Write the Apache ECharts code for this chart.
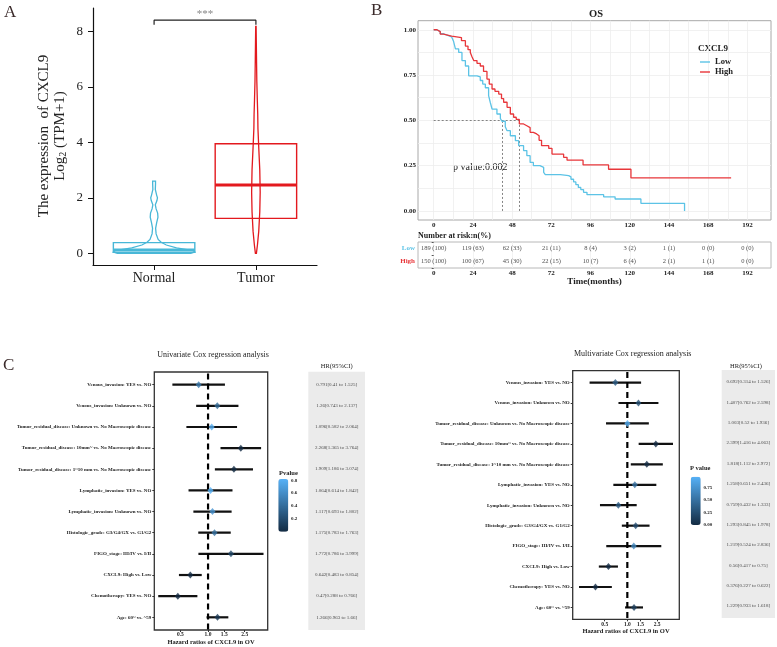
<!DOCTYPE html>
<html>
<head>
<meta charset="utf-8">
<script src="https://cdn.jsdelivr.net/npm/echarts@6/dist/echarts.min.js"></script>
<style>
html, body { margin: 0; padding: 0; background: #fff; }
#main { width: 777px; height: 647px; }
</style>
</head>
<body>
<div id="main"></div>
<script>
// ---------- panel A: expression of CXCL9 ----------
var groupNames = ['Normal', 'Tumor'];
var groupPos = [1, 2];
var boxQ1 = [0.035, 1.26];
var boxMed = [0.12, 2.46];
var boxQ3 = [0.385, 3.95];
var normalViolinY = [0, 0.05, 0.1, 0.2, 0.3, 0.4, 0.5, 0.7, 0.9, 1.1, 1.3, 1.45, 1.6, 1.75, 1.9, 2.0, 2.1, 2.3, 2.5, 2.6];
var normalViolinW = [0.36, 0.40, 0.38, 0.22, 0.12, 0.07, 0.04, 0.02, 0.015, 0.025, 0.038, 0.035, 0.02, 0.012, 0.028, 0.033, 0.025, 0.012, 0.014, 0.014];
var tumorViolinY = [0, 0.3, 0.8, 1.5, 2.2, 3.0, 3.8, 4.5, 5.0, 5.5, 6.2, 7.0, 7.6, 8.18];
var tumorViolinW = [0.005, 0.015, 0.028, 0.038, 0.042, 0.038, 0.028, 0.02, 0.018, 0.014, 0.009, 0.006, 0.004, 0.002];
var exprTicks = [0, 2, 4, 6, 8];
var sigTop = 8.4, sigFoot = 8.24, sigLabel = '***';

// ---------- panel B: overall survival ----------
var lowTime = [0, 2, 4, 6, 9, 11, 12.2, 13.3, 15.3, 17.3, 19.4, 21.4, 26.5, 28.5, 30, 31.6, 33.6, 34.6, 35.7, 38.7, 40.8, 41.8, 43.8, 44.9, 46.9, 50, 52, 55, 57, 59, 61, 65, 67.3, 68.3, 77.5, 82.6, 84, 85.6, 87, 88.5, 90, 91.7, 93.8, 104, 111, 126.8, 153.5, 153.5];
var lowSurv = [1, 0.99, 0.978, 0.968, 0.96, 0.952, 0.935, 0.895, 0.875, 0.83, 0.8, 0.746, 0.74, 0.72, 0.7, 0.68, 0.636, 0.6, 0.5625, 0.535, 0.51, 0.495, 0.465, 0.443, 0.415, 0.388, 0.36, 0.333, 0.305, 0.268, 0.25, 0.24, 0.213, 0.2, 0.195, 0.188, 0.175, 0.16, 0.145, 0.13, 0.118, 0.103, 0.09, 0.078, 0.066, 0.042, 0.042, 0];
var highTime = [0, 2, 4, 6, 11, 17, 19.4, 21, 22.4, 23.5, 24.5, 26.5, 28.5, 30.5, 32.6, 34, 35.7, 37.5, 39.8, 41.5, 42.8, 44.9, 46.9, 48.9, 50.5, 52.4, 55, 57, 59, 61, 63, 64.5, 66, 70.4, 72.4, 79.5, 81.6, 91.4, 107, 120.7, 182];
var highSurv = [1, 0.99, 0.976, 0.965, 0.957, 0.94, 0.91, 0.89, 0.875, 0.85, 0.83, 0.815, 0.8, 0.77, 0.728, 0.7, 0.673, 0.66, 0.645, 0.62, 0.6, 0.572, 0.535, 0.517, 0.505, 0.48, 0.47, 0.46, 0.434, 0.425, 0.415, 0.39, 0.36, 0.345, 0.314, 0.296, 0.28, 0.254, 0.23, 0.182, 0.182];
var medianLow = 41.8, medianHigh = 52.4;
var pValueText = 'p value:0.002';
var timeTicks = [0, 24, 48, 72, 96, 120, 144, 168, 192];
var timeGrid = [0, 12, 24, 36, 48, 60, 72, 84, 96, 108, 120, 132, 144, 156, 168, 180, 192];
var survTicks = [0, 0.25, 0.5, 0.75, 1];
var survGrid = [0, 0.125, 0.25, 0.375, 0.5, 0.625, 0.75, 0.875, 1];
var riskGroups = ['Low', 'High'];
var riskLow = [189, 119, 62, 21, 8, 3, 1, 0, 0];
var riskLowPct = [100, 63, 33, 11, 4, 2, 1, 0, 0];
var riskHigh = [150, 100, 45, 22, 10, 6, 2, 1, 0];
var riskHighPct = [100, 67, 30, 15, 7, 4, 1, 1, 0];

// ---------- panel C: Cox regression ----------
var coxVars = [
  'Venous_invasion: YES vs. NO',
  'Venous_invasion: Unknown vs. NO',
  'Tumor_residual_disease: Unknown vs. No Macroscopic disease',
  'Tumor_residual_disease: 10mm~ vs. No Macroscopic disease',
  'Tumor_residual_disease: 1~10 mm vs. No Macroscopic disease',
  'Lymphatic_invasion: YES vs. NO',
  'Lymphatic_invasion: Unknown vs. NO',
  'Histologic_grade: G3/G4/GX vs. G1/G2',
  'FIGO_stage: III/IV vs. I/II',
  'CXCL9: High vs. Low',
  'Chemotherapy: YES vs. NO',
  'Age: 60~ vs. ~59'
];
var uniHR = [0.791, 1.26, 1.096, 2.268, 1.909, 1.064, 1.117, 1.175, 1.772, 0.642, 0.47, 1.266];
var uniLo = [0.41, 0.743, 0.582, 1.365, 1.186, 0.614, 0.693, 0.783, 0.786, 0.483, 0.288, 0.963];
var uniHi = [1.525, 2.137, 2.064, 3.764, 3.074, 1.842, 1.802, 1.763, 3.999, 0.854, 0.766, 1.66];
var uniP = [0.48, 0.39, 0.78, 0.002, 0.008, 0.82, 0.65, 0.44, 0.17, 0.002, 0.002, 0.09];
var multiHR = [0.692, 1.407, 1.003, 2.399, 1.818, 1.258, 0.759, 1.293, 1.219, 0.56, 0.376, 1.229];
var multiLo = [0.314, 0.762, 0.52, 1.416, 1.112, 0.651, 0.432, 0.845, 0.524, 0.417, 0.227, 0.933];
var multiHi = [1.526, 2.598, 1.936, 4.063, 2.972, 2.436, 1.333, 1.978, 2.836, 0.75, 0.622, 1.618];
var multiP = [0.36, 0.28, 0.96, 0.001, 0.017, 0.5, 0.34, 0.24, 0.65, 0.0001, 0.0001, 0.14];
var hrTicks = [0.5, 1.0, 1.5, 2.5];
var uniPTicks = [0.2, 0.4, 0.6, 0.8];
var multiPTicks = [0, 0.25, 0.5, 0.75];

// ---------- styles ----------
var SERIF = "'Liberation Serif','Times New Roman',serif";
var BLUE = '#48B7D7', RED = '#E3191E';
var KM_LOW = '#5CC3E6', KM_HIGH = '#E8363A';
var P_COLORS = ['#132B43', '#56B1F7'];
var boxHalf = 0.4;

var chart = echarts.init(document.getElementById('main'));

function zip(a, b) { return a.map(function (v, i) { return [v, b[i]]; }); }
function rowIdx() { return coxVars.map(function (_, i) { return i; }); }

function violin(pos, ys, ws, color) {
  return {
    type: 'custom', xAxisIndex: 0, yAxisIndex: 0, silent: true,
    data: [[pos, 0]],
    renderItem: function (params, api) {
      var pts = [];
      for (var i = 0; i < ys.length; i++) pts.push(api.coord([pos - ws[i], ys[i]]));
      for (var j = ys.length - 1; j >= 0; j--) pts.push(api.coord([pos + ws[j], ys[j]]));
      return { type: 'polygon', shape: { points: pts }, style: { fill: 'rgba(255,255,255,0)', stroke: color, lineWidth: 1.3 } };
    }
  };
}

function forestSeries(gi, hr, lo, hi, p) {
  var ci = hr.map(function (_, i) { return [Math.log(lo[i]), Math.log(hi[i]), i]; });
  var pts = hr.map(function (v, i) { return [Math.log(v), i, p[i]]; });
  var txt = hr.map(function (v, i) { return [0.5, i, v + '[' + lo[i] + ' to ' + hi[i] + ']']; });
  return [
    { type: 'line', xAxisIndex: gi, yAxisIndex: gi, symbol: 'none', silent: true,
      data: [[0, -1], [0, 12]], lineStyle: { color: '#000', width: 2.2, type: [6, 4] } },
    { type: 'custom', xAxisIndex: gi, yAxisIndex: gi, silent: true, data: ci,
      encode: { x: [0, 1], y: 2 },
      renderItem: function (params, api) {
        var a = api.coord([api.value(0), api.value(2)]);
        var b = api.coord([api.value(1), api.value(2)]);
        return { type: 'line', shape: { x1: a[0], y1: a[1], x2: b[0], y2: b[1] }, style: { stroke: '#111', lineWidth: 2.2 } };
      } },
    { type: 'scatter', xAxisIndex: gi, yAxisIndex: gi, symbol: 'diamond', symbolSize: [6, 7],
      data: pts, encode: { x: 0, y: 1 }, z: 5 },
    { type: 'scatter', xAxisIndex: gi + 1, yAxisIndex: gi + 1, symbolSize: 1, silent: true,
      data: txt, encode: { x: 0, y: 1 }, itemStyle: { color: 'rgba(0,0,0,0)' },
      label: { show: true, position: 'inside', fontSize: 5, fontFamily: SERIF, color: '#222',
        formatter: function (d) { return d.data[2]; } } }
  ];
}

function forestAxes(gi, hrMin, hrMax, rowPad) {
  var lnTicks = hrTicks.map(Math.log);
  return {
    x: [
      { gridIndex: gi, type: 'value', min: Math.log(hrMin), max: Math.log(hrMax),
        axisLine: { show: false, onZero: false }, splitLine: { show: false },
        axisTick: { length: 2, customValues: lnTicks, lineStyle: { color: '#333' } },
        axisLabel: { customValues: lnTicks, margin: 2, fontSize: 5.5, fontWeight: 'bold', fontFamily: SERIF, color: '#222',
          formatter: function (v) { return Math.exp(v).toFixed(1); } },
        name: 'Hazard ratios of CXCL9 in OV', nameLocation: 'middle', nameGap: 9,
        nameTextStyle: { fontSize: 6.5, fontWeight: 'bold', fontFamily: SERIF, color: '#222' } },
      { gridIndex: gi + 1, type: 'value', min: 0, max: 1, show: false }
    ],
    y: [
      { gridIndex: gi, type: 'value', inverse: true, min: -rowPad, max: 11 + rowPad,
        axisLine: { show: false, onZero: false }, splitLine: { show: false },
        axisTick: { length: 2, customValues: rowIdx(), lineStyle: { color: '#333' } },
        axisLabel: { customValues: rowIdx(), margin: 3, fontSize: 5, fontWeight: 'bold', fontFamily: SERIF, color: '#222',
          formatter: function (v) { return coxVars[v]; } } },
      { gridIndex: gi + 1, type: 'value', inverse: true, min: -rowPad, max: 11 + rowPad, show: false }
    ]
  };
}

var uniAxes = forestAxes(3, 0.261, 4.44, 0.6);
var multiAxes = forestAxes(5, 0.187, 4.93, 0.58);

function cbLabels(x, top, h, min, max, ticks, digits) {
  return ticks.map(function (v) {
    return { type: 'text', x: x, y: top + (max - v) / (max - min) * h,
      style: { text: v.toFixed(digits), fontSize: 5, fontWeight: 'bold', fontFamily: SERIF, fill: '#222', align: 'left', verticalAlign: 'middle' } };
  });
}

function txt(x, y, s, size, opts) {
  opts = opts || {};
  return { type: 'text', x: x, y: y, style: { text: s, fontSize: size, fontFamily: SERIF,
    fontWeight: opts.bold ? 'bold' : 'normal', fill: opts.color || '#222',
    align: opts.align || 'left', verticalAlign: opts.valign || 'middle' } };
}

var uniPMin = Math.min.apply(null, uniP), uniPMax = Math.max.apply(null, uniP);
var multiPMin = Math.min.apply(null, multiP), multiPMax = Math.max.apply(null, multiP);

var riskData = [];
timeTicks.forEach(function (t, i) {
  riskData.push([t, 0, riskLow[i] + ' (' + riskLowPct[i] + ')']);
  riskData.push([t, 1, riskHigh[i] + ' (' + riskHighPct[i] + ')']);
});

var option = {
  animation: false,
  textStyle: { fontFamily: SERIF },
  grid: [
    { left: 93, top: 8, width: 224, height: 257 },
    { left: 418, top: 20.7, width: 353, height: 199.3, show: true, borderColor: '#A8A8A8', borderWidth: 1, backgroundColor: '#fff' },
    { left: 418, top: 242, width: 353, height: 26, show: true, borderColor: '#B8B8B8', borderWidth: 1, backgroundColor: '#fff' },
    { left: 154.3, top: 372, width: 113.4, height: 258.7, show: true, borderColor: '#333', borderWidth: 1.3, backgroundColor: '#fff' },
    { left: 308.3, top: 371.7, width: 56.7, height: 258.3, show: true, borderWidth: 0, backgroundColor: '#EBEBEB' },
    { left: 572.7, top: 370.7, width: 106.6, height: 248.6, show: true, borderColor: '#333', borderWidth: 1.3, backgroundColor: '#fff' },
    { left: 721.7, top: 370, width: 53.3, height: 248, show: true, borderWidth: 0, backgroundColor: '#EBEBEB' }
  ],
  xAxis: [
    { gridIndex: 0, type: 'value', min: 0.4, max: 2.6,
      axisLine: { onZero: false, lineStyle: { color: '#111', width: 1.2 } },
      axisTick: { length: 5, customValues: groupPos, lineStyle: { color: '#111' } },
      axisLabel: { customValues: groupPos, margin: 6, fontSize: 14, color: '#222', fontFamily: SERIF,
        formatter: function (v) { return groupNames[groupPos.indexOf(v)]; } },
      splitLine: { show: false } },
    { gridIndex: 1, type: 'value', min: -9.6, max: 206.4,
      axisLine: { show: false, onZero: false },
      axisTick: { show: false, customValues: timeGrid },
      axisLabel: { customValues: timeTicks, margin: 2, fontSize: 7, fontWeight: 'bold', color: '#222', fontFamily: SERIF },
      splitLine: { show: true, lineStyle: { color: '#EEEEEE', width: 0.8 } } },
    { gridIndex: 2, type: 'value', min: -9.6, max: 206.4,
      axisLine: { show: false, onZero: false },
      axisTick: { show: false, customValues: timeTicks },
      axisLabel: { customValues: timeTicks, margin: 1.5, fontSize: 7, fontWeight: 'bold', color: '#222', fontFamily: SERIF },
      splitLine: { show: true, lineStyle: { color: '#F0F0F0', width: 0.8 } },
      name: 'Time(months)', nameLocation: 'middle', nameGap: 8,
      nameTextStyle: { fontSize: 9, fontWeight: 'bold', color: '#222', fontFamily: SERIF } }
  ].concat(uniAxes.x, multiAxes.x),
  yAxis: [
    { gridIndex: 0, type: 'value', min: -0.42, max: 8.84,
      axisLine: { show: true, onZero: false, lineStyle: { color: '#111', width: 1.2 } },
      axisTick: { show: true, length: 5, customValues: exprTicks, lineStyle: { color: '#111' } },
      axisLabel: { customValues: exprTicks, margin: 10, fontSize: 13, color: '#222', fontFamily: SERIF },
      splitLine: { show: false } },
    { gridIndex: 1, type: 'value', min: -0.05, max: 1.05,
      axisLine: { show: false, onZero: false },
      axisTick: { show: false, customValues: survGrid },
      axisLabel: { customValues: survTicks, margin: 2, fontSize: 7, fontWeight: 'bold', color: '#222', fontFamily: SERIF,
        formatter: function (v) { return v.toFixed(2); } },
      splitLine: { show: true, lineStyle: { color: '#EEEEEE', width: 0.8 } } },
    { gridIndex: 2, type: 'category', inverse: true, data: riskGroups,
      axisLine: { show: false }, axisTick: { show: true, length: 2, lineStyle: { color: '#555' } },
      axisLabel: { margin: 3, fontSize: 7, fontWeight: 'bold', fontFamily: SERIF,
        color: function (v) { return v === 'Low' ? KM_LOW : KM_HIGH; } },
      splitLine: { show: false } }
  ].concat(uniAxes.y, multiAxes.y),
  legend: {
    data: ['Low', 'High'], orient: 'vertical', left: 700, top: 57, padding: 0, itemGap: 0,
    icon: 'rect', itemWidth: 10, itemHeight: 1.4, selectedMode: false,
    textStyle: { fontSize: 8.5, fontWeight: 'bold', color: '#222', fontFamily: SERIF, lineHeight: 10 }
  },
  visualMap: [
    { type: 'continuous', seriesIndex: 11, dimension: 2, min: uniPMin, max: uniPMax,
      left: 278.3, top: 479, itemWidth: 10, itemHeight: 52.7, padding: 0, calculable: false,
      inRange: { color: P_COLORS } },
    { type: 'continuous', seriesIndex: 15, dimension: 2, min: multiPMin, max: multiPMax,
      left: 690.7, top: 476.7, itemWidth: 10, itemHeight: 48.3, padding: 0, calculable: false,
      inRange: { color: P_COLORS } }
  ],
  graphic: [
    txt(4, 13, 'A', 17, { color: '#3a2a2a' }),
    txt(371, 11, 'B', 17, { color: '#3a2a2a' }),
    txt(3, 366, 'C', 17, { color: '#3a2a2a' }),
    { type: 'text', x: 52, y: 136, rotation: Math.PI / 2,
      style: { text: 'The expression  of CXCL9\n{n|Log}{s|2}{n| (TPM+1)}', fontSize: 15, fontFamily: SERIF, fill: '#222',
        align: 'center', verticalAlign: 'middle', lineHeight: 16,
        rich: { n: { fontSize: 15, fontFamily: SERIF, fill: '#222' }, s: { fontSize: 10, fontFamily: SERIF, fill: '#222', verticalAlign: 'bottom', padding: [6, 0, 0, 0] } } } },
    txt(596, 14, 'OS', 10.5, { bold: true, align: 'center' }),
    txt(698, 49, 'CXCL9', 9, { bold: true }),
    txt(453, 167, pValueText, 10),
    txt(418, 236, 'Number at risk:n(%)', 8, { bold: true }),
    txt(213, 355, 'Univariate Cox regression analysis', 8, { align: 'center' }),
    txt(336.7, 366.5, 'HR(95%CI)', 6.5, { align: 'center' }),
    txt(279, 473, 'Pvalue', 6.5, { bold: true }),
    txt(632.7, 354, 'Multivariate Cox regression analysis', 8, { align: 'center' }),
    txt(746, 366.5, 'HR(95%CI)', 6.5, { align: 'center' }),
    txt(690, 468, 'P value', 6.5, { bold: true })
  ].concat(
    cbLabels(291, 479, 52.7, uniPMin, uniPMax, uniPTicks, 1),
    cbLabels(703.5, 476.7, 48.3, multiPMin, multiPMax, multiPTicks, 2)
  ),
  series: [
    violin(groupPos[0], normalViolinY, normalViolinW, BLUE),
    violin(groupPos[1], tumorViolinY, tumorViolinW, RED),
    { type: 'custom', xAxisIndex: 0, yAxisIndex: 0, silent: true,
      data: groupPos.map(function (p, i) { return [p, boxQ1[i], boxMed[i], boxQ3[i]]; }),
      encode: { x: 0, y: [1, 2, 3] },
      renderItem: function (params, api) {
        var x = api.value(0), col = params.dataIndex === 0 ? BLUE : RED;
        var tl = api.coord([x - boxHalf, api.value(3)]);
        var br = api.coord([x + boxHalf, api.value(1)]);
        var m1 = api.coord([x - boxHalf, api.value(2)]);
        var m2 = api.coord([x + boxHalf, api.value(2)]);
        return { type: 'group', children: [
          { type: 'rect', shape: { x: tl[0], y: tl[1], width: br[0] - tl[0], height: br[1] - tl[1] },
            style: { fill: 'rgba(255,255,255,0)', stroke: col, lineWidth: 1.4 } },
          { type: 'line', shape: { x1: m1[0], y1: m1[1], x2: m2[0], y2: m2[1] }, style: { stroke: col, lineWidth: 3 } }
        ] };
      } },
    { type: 'line', xAxisIndex: 0, yAxisIndex: 0, symbol: 'none', silent: true,
      data: [[groupPos[0], sigFoot], [groupPos[0], sigTop], [groupPos[1], sigTop], [groupPos[1], sigFoot]],
      lineStyle: { color: '#222', width: 1.2 } },
    { type: 'scatter', xAxisIndex: 0, yAxisIndex: 0, symbolSize: 1, silent: true,
      data: [[(groupPos[0] + groupPos[1]) / 2, sigTop]], itemStyle: { color: 'rgba(0,0,0,0)' },
      label: { show: true, position: 'top', distance: 0, formatter: sigLabel, fontSize: 11, color: '#666', fontFamily: SERIF } },
    { name: 'Low', type: 'line', xAxisIndex: 1, yAxisIndex: 1, step: 'end', symbol: 'none',
      data: zip(lowTime, lowSurv), lineStyle: { color: KM_LOW, width: 1.3 }, itemStyle: { color: KM_LOW } },
    { name: 'High', type: 'line', xAxisIndex: 1, yAxisIndex: 1, step: 'end', symbol: 'none',
      data: zip(highTime, highSurv), lineStyle: { color: KM_HIGH, width: 1.3 }, itemStyle: { color: KM_HIGH } },
    { type: 'lines', coordinateSystem: 'cartesian2d', xAxisIndex: 1, yAxisIndex: 1, silent: true,
      data: [
        { coords: [[0, 0.5], [medianHigh, 0.5]] },
        { coords: [[medianLow, 0], [medianLow, 0.5]] },
        { coords: [[medianHigh, 0], [medianHigh, 0.5]] }
      ],
      lineStyle: { color: '#666', width: 0.8, type: [2, 2], opacity: 1 } },
    { type: 'scatter', xAxisIndex: 2, yAxisIndex: 2, symbolSize: 1, silent: true, data: riskData,
      itemStyle: { color: 'rgba(0,0,0,0)' },
      label: { show: true, position: 'inside', fontSize: 6.5, color: '#222', fontFamily: SERIF,
        formatter: function (d) { return d.data[2]; } } }
  ].concat(
    forestSeries(3, uniHR, uniLo, uniHi, uniP),
    forestSeries(5, multiHR, multiLo, multiHi, multiP)
  )
};

chart.setOption(option);
</script>
</body>
</html>
